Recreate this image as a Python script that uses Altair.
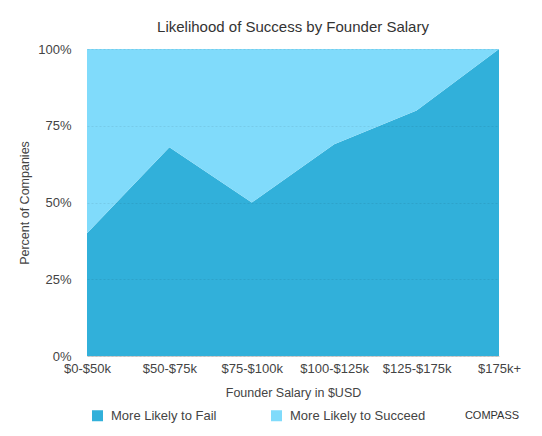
import altair as alt
import pandas as pd

categories = ["$0-$50k", "$50-$75k", "$75-$100k", "$100-$125k", "$125-$175k", "$175k+"]
fail = [40, 68, 50, 69, 80, 100]
succeed = [60, 32, 50, 31, 20, 0]
series = ["More Likely to Fail", "More Likely to Succeed"]
colors = ["#31b0da", "#80dbfb"]
title_text = "Likelihood of Success by Founder Salary"

rows = []
for c, f, s in zip(categories, fail, succeed):
    rows.append({"salary": c, "outcome": series[0], "value": f})
    rows.append({"salary": c, "outcome": series[1], "value": s})
df = pd.DataFrame(rows)

FONT = "Liberation Sans"

area = alt.Chart(df).mark_area(interpolate="linear", opacity=1).encode(
    x=alt.X("salary:N", sort=categories,
            scale=alt.Scale(type="point", padding=0),
            axis=alt.Axis(title="Founder Salary in $USD", labelAngle=0,
                          ticks=False, tickSize=0, labelPadding=6,
                          labelFontSize=13, labelColor="#444",
                          titleFontSize=12.5, titleColor="#444", titleFontWeight="normal",
                          titleY=36, titleBaseline="middle",
                          domain=True, domainColor="#d0d0d0", grid=False)),
    y=alt.Y("value:Q", stack="normalize",
            scale=alt.Scale(domain=[0, 1]),
            axis=alt.Axis(title="Percent of Companies", format=".0%",
                          values=[0, 0.25, 0.5, 0.75, 1],
                          ticks=False, tickSize=0, labelPadding=16, domain=False,
                          labelFontSize=13, labelColor="#444",
                          titleFontSize=12.5, titleColor="#444", titleFontWeight="normal",
                          titleX=-63, titleY=153.5, titleAngle=270,
                          titleBaseline="middle", titleAlign="center",
                          grid=True, gridColor="#000000", gridOpacity=0.07,
                          gridDash=[2, 2], zindex=1)),
    color=alt.Color("outcome:N",
                    scale=alt.Scale(domain=series, range=colors),
                    legend=alt.Legend(title=None, orient="none", legendX=4, legendY=360,
                                      direction="horizontal", symbolType="square",
                                      symbolSize=121, symbolStrokeWidth=0,
                                      symbolOpacity=1, labelFontSize=13,
                                      labelColor="#444", labelOffset=7,
                                      columnPadding=53, padding=0)),
    order=alt.Order("outcome:N"),
)

title = alt.Chart(pd.DataFrame({"t": [title_text]})).mark_text(
    font=FONT, fontSize=15, color="#333", align="center", baseline="alphabetic"
).encode(text="t:N", x=alt.value(206), y=alt.value(-17.5))

logo = alt.Chart(pd.DataFrame({"t": ["COMPASS"]})).mark_text(
    font=FONT, fontSize=11, color="#333", align="center", baseline="middle"
).encode(text="t:N", x=alt.value(405), y=alt.value(367))

chart = alt.layer(area, title, logo).properties(
    width=412, height=307,
    autosize=alt.AutoSizeParams(type="none"),
    padding={"left": 79, "top": 41, "right": 35, "bottom": 72},
).configure(font=FONT).configure_view(stroke=None)

chart.save("out.html", embed_options={"renderer": "svg", "actions": False})
